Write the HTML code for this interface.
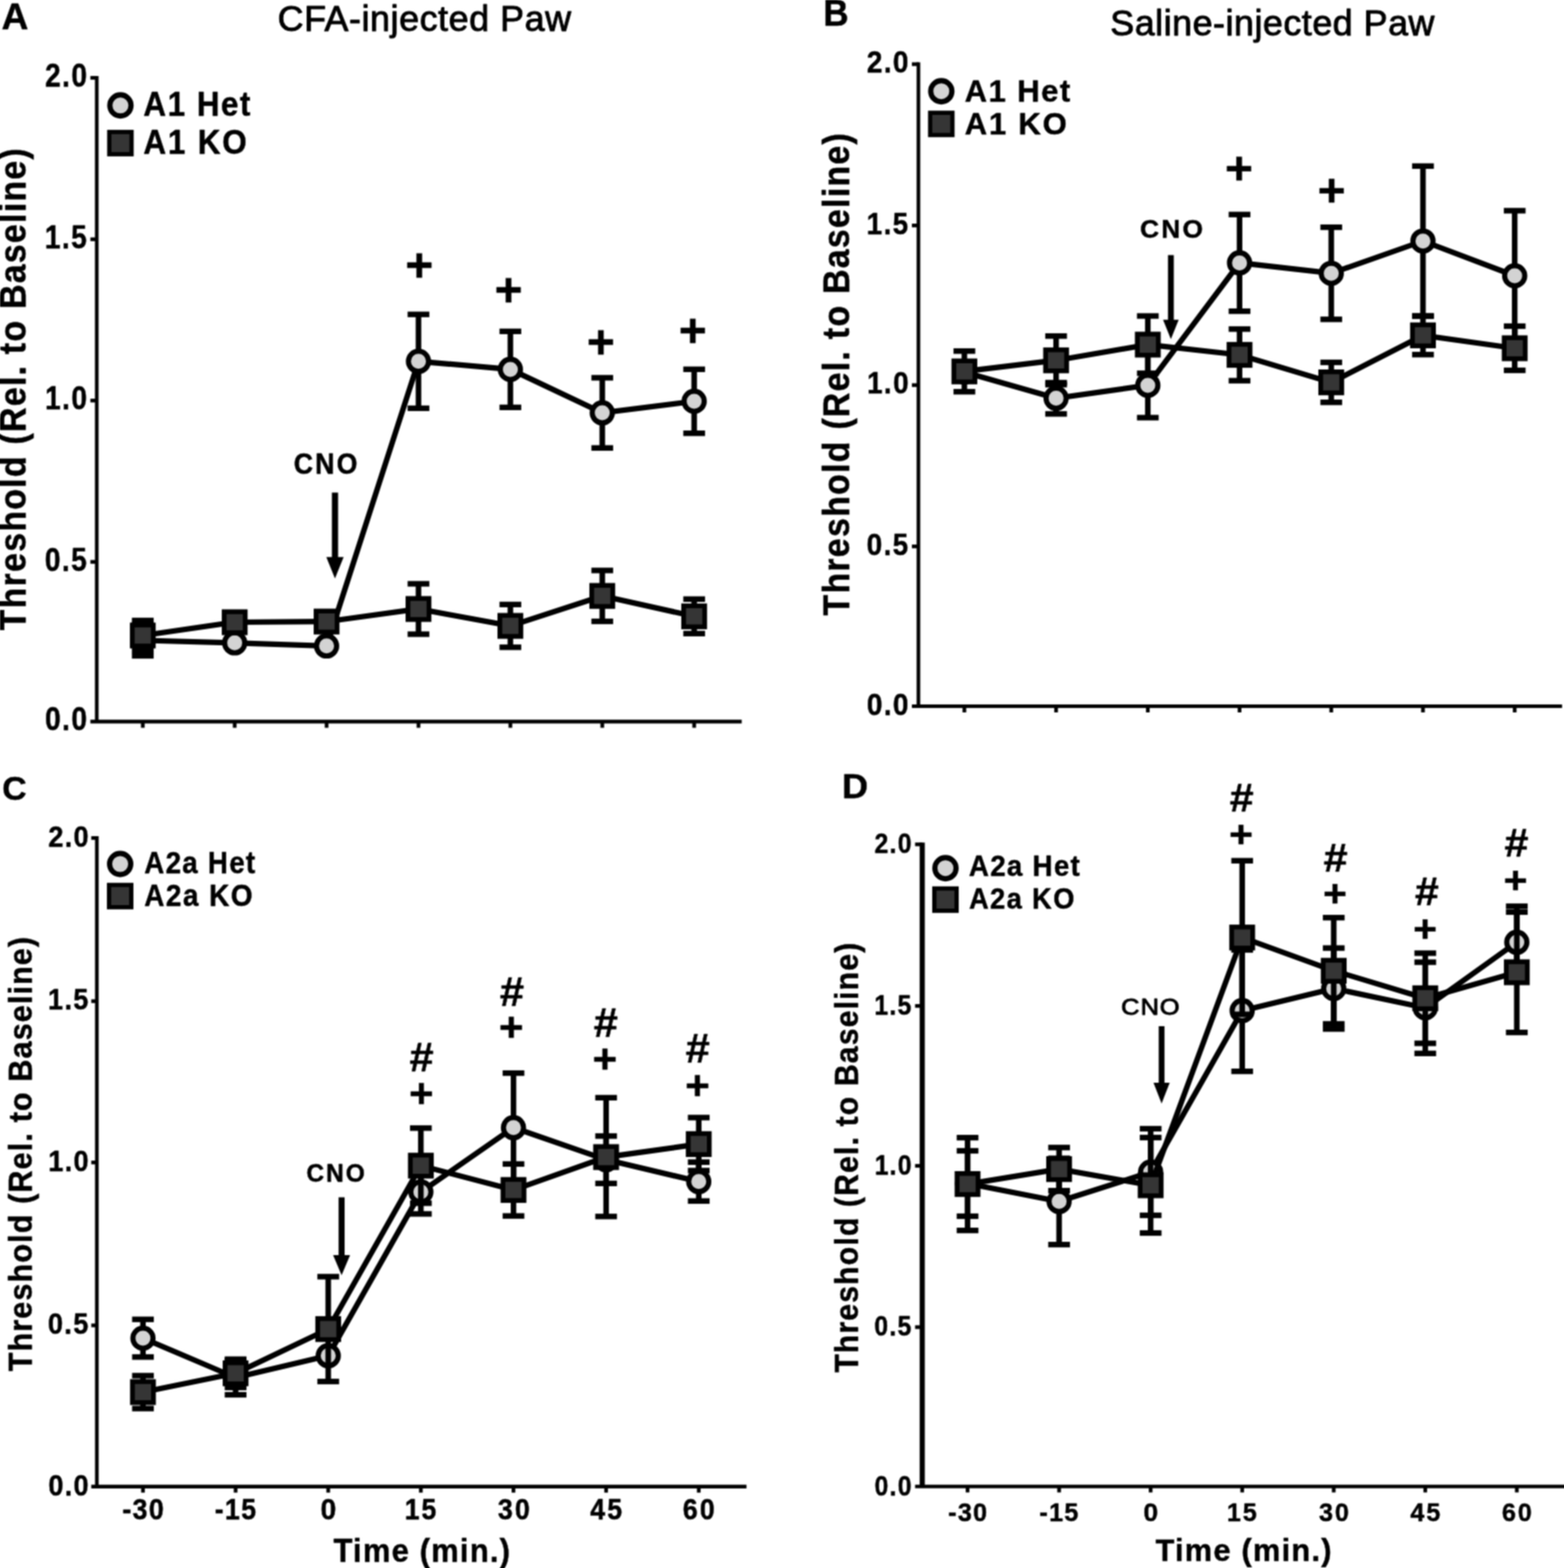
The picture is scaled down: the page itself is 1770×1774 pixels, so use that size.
<!DOCTYPE html>
<html><head><meta charset="utf-8"><title>Figure</title>
<style>html,body{margin:0;padding:0;background:#fff;} svg{display:block;} text{font-family:'Liberation Sans', Arial, Helvetica, sans-serif;font-size:100px;}</style>
</head><body>
<svg xmlns="http://www.w3.org/2000/svg" width="1770" height="1774" viewBox="0 0 1770 1774">
<defs><filter id="soft" x="0" y="0" width="1" height="1" color-interpolation-filters="sRGB"><feConvolveMatrix order="3" kernelMatrix="1 2 1 2 4 2 1 2 1" divisor="16" edgeMode="duplicate"/></filter></defs>
<rect width="1770" height="1774" fill="#fff"/>
<g filter="url(#soft)">
<rect width="1770" height="1774" fill="#fff"/>
<g stroke="#000" fill="none">
<line x1="109.5" y1="85.95" x2="109.5" y2="816.4" stroke-width="4.1" stroke-linecap="butt"/>
<line x1="102.3" y1="816.4" x2="839.4" y2="816.4" stroke-width="4.1" stroke-linecap="butt"/>
<line x1="102.3" y1="635.7" x2="109.5" y2="635.7" stroke-width="4.2" stroke-linecap="butt"/>
<line x1="102.3" y1="453.2" x2="109.5" y2="453.2" stroke-width="4.2" stroke-linecap="butt"/>
<line x1="102.3" y1="270.7" x2="109.5" y2="270.7" stroke-width="4.2" stroke-linecap="butt"/>
<line x1="102.3" y1="88.05" x2="109.5" y2="88.05" stroke-width="4.2" stroke-linecap="butt"/>
<line x1="161.6" y1="816.4" x2="161.6" y2="823.4" stroke-width="4.2" stroke-linecap="butt"/>
<line x1="265.6" y1="816.4" x2="265.6" y2="823.4" stroke-width="4.2" stroke-linecap="butt"/>
<line x1="369.6" y1="816.4" x2="369.6" y2="823.4" stroke-width="4.2" stroke-linecap="butt"/>
<line x1="473.6" y1="816.4" x2="473.6" y2="823.4" stroke-width="4.2" stroke-linecap="butt"/>
<line x1="577.6" y1="816.4" x2="577.6" y2="823.4" stroke-width="4.2" stroke-linecap="butt"/>
<line x1="681.6" y1="816.4" x2="681.6" y2="823.4" stroke-width="4.2" stroke-linecap="butt"/>
<line x1="785.6" y1="816.4" x2="785.6" y2="823.4" stroke-width="4.2" stroke-linecap="butt"/>
</g>
<g stroke="#000" fill="none">
<line x1="161.6" y1="707" x2="161.6" y2="742" stroke-width="6.3" stroke-linecap="butt"/>
<line x1="149.3" y1="707" x2="173.9" y2="707" stroke-width="6.3" stroke-linecap="butt"/>
<line x1="149.3" y1="742" x2="173.9" y2="742" stroke-width="6.3" stroke-linecap="butt"/>
<line x1="473.6" y1="355.7" x2="473.6" y2="461.9" stroke-width="6.3" stroke-linecap="butt"/>
<line x1="461.3" y1="355.7" x2="485.9" y2="355.7" stroke-width="6.3" stroke-linecap="butt"/>
<line x1="461.3" y1="461.9" x2="485.9" y2="461.9" stroke-width="6.3" stroke-linecap="butt"/>
<line x1="577.6" y1="374.9" x2="577.6" y2="460.9" stroke-width="6.3" stroke-linecap="butt"/>
<line x1="565.3" y1="374.9" x2="589.9" y2="374.9" stroke-width="6.3" stroke-linecap="butt"/>
<line x1="565.3" y1="460.9" x2="589.9" y2="460.9" stroke-width="6.3" stroke-linecap="butt"/>
<line x1="681.6" y1="427.4" x2="681.6" y2="506.8" stroke-width="6.3" stroke-linecap="butt"/>
<line x1="669.3" y1="427.4" x2="693.9" y2="427.4" stroke-width="6.3" stroke-linecap="butt"/>
<line x1="669.3" y1="506.8" x2="693.9" y2="506.8" stroke-width="6.3" stroke-linecap="butt"/>
<line x1="785.6" y1="417.8" x2="785.6" y2="490.2" stroke-width="6.3" stroke-linecap="butt"/>
<line x1="773.3" y1="417.8" x2="797.9" y2="417.8" stroke-width="6.3" stroke-linecap="butt"/>
<line x1="773.3" y1="490.2" x2="797.9" y2="490.2" stroke-width="6.3" stroke-linecap="butt"/>
<polyline points="161.6,724.5 265.6,727.3 369.6,730.8 473.6,408.8 577.6,417.9 681.6,467.1 785.6,454" stroke-width="6.2" stroke-linejoin="miter"/>
</g>
<g stroke="#000" stroke-width="5.8" fill="#d3d3d3">
<circle cx="161.6" cy="724.5" r="11.4"/>
<circle cx="265.6" cy="727.3" r="11.4"/>
<circle cx="369.6" cy="730.8" r="11.4"/>
<circle cx="473.6" cy="408.8" r="11.4"/>
<circle cx="577.6" cy="417.9" r="11.4"/>
<circle cx="681.6" cy="467.1" r="11.4"/>
<circle cx="785.6" cy="454" r="11.4"/>
</g>
<g stroke="#000" fill="none">
<line x1="161.6" y1="702" x2="161.6" y2="736" stroke-width="6.3" stroke-linecap="butt"/>
<line x1="149.3" y1="702" x2="173.9" y2="702" stroke-width="6.3" stroke-linecap="butt"/>
<line x1="149.3" y1="736" x2="173.9" y2="736" stroke-width="6.3" stroke-linecap="butt"/>
<line x1="473.6" y1="660.5" x2="473.6" y2="717.5" stroke-width="6.3" stroke-linecap="butt"/>
<line x1="461.3" y1="660.5" x2="485.9" y2="660.5" stroke-width="6.3" stroke-linecap="butt"/>
<line x1="461.3" y1="717.5" x2="485.9" y2="717.5" stroke-width="6.3" stroke-linecap="butt"/>
<line x1="577.6" y1="683.9" x2="577.6" y2="732.3" stroke-width="6.3" stroke-linecap="butt"/>
<line x1="565.3" y1="683.9" x2="589.9" y2="683.9" stroke-width="6.3" stroke-linecap="butt"/>
<line x1="565.3" y1="732.3" x2="589.9" y2="732.3" stroke-width="6.3" stroke-linecap="butt"/>
<line x1="681.6" y1="645.4" x2="681.6" y2="703" stroke-width="6.3" stroke-linecap="butt"/>
<line x1="669.3" y1="645.4" x2="693.9" y2="645.4" stroke-width="6.3" stroke-linecap="butt"/>
<line x1="669.3" y1="703" x2="693.9" y2="703" stroke-width="6.3" stroke-linecap="butt"/>
<line x1="785.6" y1="677.8" x2="785.6" y2="716.8" stroke-width="6.3" stroke-linecap="butt"/>
<line x1="773.3" y1="677.8" x2="797.9" y2="677.8" stroke-width="6.3" stroke-linecap="butt"/>
<line x1="773.3" y1="716.8" x2="797.9" y2="716.8" stroke-width="6.3" stroke-linecap="butt"/>
<polyline points="161.6,719 265.6,704 369.6,703.2 473.6,689 577.6,708.1 681.6,674.2 785.6,697.3" stroke-width="6.2" stroke-linejoin="miter"/>
</g>
<g stroke="#000" stroke-width="5.4" fill="#353535">
<rect x="149.7" y="707.1" width="23.8" height="23.8"/>
<rect x="253.7" y="692.1" width="23.8" height="23.8"/>
<rect x="357.7" y="691.3" width="23.8" height="23.8"/>
<rect x="461.7" y="677.1" width="23.8" height="23.8"/>
<rect x="565.7" y="696.2" width="23.8" height="23.8"/>
<rect x="669.7" y="662.3" width="23.8" height="23.8"/>
<rect x="773.7" y="685.4" width="23.8" height="23.8"/>
</g>
<circle cx="136.3" cy="119.3" r="12.0" stroke="#000" stroke-width="5.9" fill="#d3d3d3"/>
<rect x="123.7" y="149.3" width="25.2" height="25.2" stroke="#000" stroke-width="4.8" fill="#353535"/>
<rect x="375.6" y="557.3" width="7.0" height="74" fill="#000"/>
<polygon points="369.3,630.3 388.9,630.3 379.1,654.6" fill="#000"/>
<g fill="#000">
<text transform="translate(1.69,32.68) scale(0.4212,0.4279)" font-weight="bold" stroke="#000" stroke-width="1.178" stroke-linejoin="round">A</text>
<text transform="translate(314.27,35.15) scale(0.4052,0.4074)" font-weight="normal" stroke="#000" stroke-width="2.461" stroke-linejoin="round" letter-spacing="1.629">CFA-injected Paw</text>
<text transform="translate(162.28,130.66) scale(0.3560,0.3914)" font-weight="bold" stroke="#000" stroke-width="1.338" stroke-linejoin="round" letter-spacing="4.712">A1 Het</text>
<text transform="translate(162.28,174.17) scale(0.3570,0.3789)" font-weight="bold" stroke="#000" stroke-width="1.359" stroke-linejoin="round" letter-spacing="5.608">A1 KO</text>
<text transform="translate(332.54,535.91) scale(0.3016,0.3352)" font-weight="bold" stroke="#000" stroke-width="1.570" stroke-linejoin="round" letter-spacing="8.054">CNO</text>
<text transform="translate(29.18,713.16) rotate(-90) scale(0.3839,0.4188)" font-weight="bold" stroke="#000" stroke-width="1.246" stroke-linejoin="round" letter-spacing="3.669">Threshold (Rel. to Baseline)</text>
<text transform="translate(51.05,826.44) scale(0.3182,0.3680)" font-weight="bold" stroke="#000" stroke-width="1.457" stroke-linejoin="round" letter-spacing="4.930">0.0</text>
<text transform="translate(50.7,645.74) scale(0.3183,0.3680)" font-weight="bold" stroke="#000" stroke-width="1.457" stroke-linejoin="round" letter-spacing="4.968">0.5</text>
<text transform="translate(51.11,463.24) scale(0.3182,0.3680)" font-weight="bold" stroke="#000" stroke-width="1.457" stroke-linejoin="round" letter-spacing="4.855">1.0</text>
<text transform="translate(50.76,280.56) scale(0.3182,0.3679)" font-weight="bold" stroke="#000" stroke-width="1.458" stroke-linejoin="round" letter-spacing="4.892">1.5</text>
<text transform="translate(51.02,98.09) scale(0.3183,0.3680)" font-weight="bold" stroke="#000" stroke-width="1.457" stroke-linejoin="round" letter-spacing="4.968">2.0</text>
<text transform="translate(458.74,317.66) scale(0.5400,0.5272)" font-weight="bold" stroke="#000" stroke-width="0.937" stroke-linejoin="round">+</text>
<text transform="translate(559.64,345.66) scale(0.5400,0.5272)" font-weight="bold" stroke="#000" stroke-width="0.937" stroke-linejoin="round">+</text>
<text transform="translate(664.34,404.66) scale(0.5400,0.5272)" font-weight="bold" stroke="#000" stroke-width="0.937" stroke-linejoin="round">+</text>
<text transform="translate(768.34,392.36) scale(0.5400,0.5272)" font-weight="bold" stroke="#000" stroke-width="0.937" stroke-linejoin="round">+</text>
</g>
<g stroke="#000" fill="none">
<line x1="1039.4" y1="70.5" x2="1039.4" y2="799" stroke-width="4.1" stroke-linecap="butt"/>
<line x1="1032" y1="799" x2="1767.8" y2="799" stroke-width="4.1" stroke-linecap="butt"/>
<line x1="1032" y1="618.2" x2="1039.4" y2="618.2" stroke-width="4.2" stroke-linecap="butt"/>
<line x1="1032" y1="435.7" x2="1039.4" y2="435.7" stroke-width="4.2" stroke-linecap="butt"/>
<line x1="1032" y1="255.1" x2="1039.4" y2="255.1" stroke-width="4.2" stroke-linecap="butt"/>
<line x1="1032" y1="72.6" x2="1039.4" y2="72.6" stroke-width="4.2" stroke-linecap="butt"/>
<line x1="1091.4" y1="799" x2="1091.4" y2="806" stroke-width="4.2" stroke-linecap="butt"/>
<line x1="1195.2" y1="799" x2="1195.2" y2="806" stroke-width="4.2" stroke-linecap="butt"/>
<line x1="1299" y1="799" x2="1299" y2="806" stroke-width="4.2" stroke-linecap="butt"/>
<line x1="1402.8" y1="799" x2="1402.8" y2="806" stroke-width="4.2" stroke-linecap="butt"/>
<line x1="1506.6" y1="799" x2="1506.6" y2="806" stroke-width="4.2" stroke-linecap="butt"/>
<line x1="1610.4" y1="799" x2="1610.4" y2="806" stroke-width="4.2" stroke-linecap="butt"/>
<line x1="1714.2" y1="799" x2="1714.2" y2="806" stroke-width="4.2" stroke-linecap="butt"/>
</g>
<g stroke="#000" fill="none">
<line x1="1195.2" y1="432.9" x2="1195.2" y2="468.3" stroke-width="6.3" stroke-linecap="butt"/>
<line x1="1182.9" y1="432.9" x2="1207.5" y2="432.9" stroke-width="6.3" stroke-linecap="butt"/>
<line x1="1182.9" y1="468.3" x2="1207.5" y2="468.3" stroke-width="6.3" stroke-linecap="butt"/>
<line x1="1299" y1="399.3" x2="1299" y2="472.5" stroke-width="6.3" stroke-linecap="butt"/>
<line x1="1286.7" y1="399.3" x2="1311.3" y2="399.3" stroke-width="6.3" stroke-linecap="butt"/>
<line x1="1286.7" y1="472.5" x2="1311.3" y2="472.5" stroke-width="6.3" stroke-linecap="butt"/>
<line x1="1402.8" y1="242.7" x2="1402.8" y2="352.1" stroke-width="6.3" stroke-linecap="butt"/>
<line x1="1390.5" y1="242.7" x2="1415.1" y2="242.7" stroke-width="6.3" stroke-linecap="butt"/>
<line x1="1390.5" y1="352.1" x2="1415.1" y2="352.1" stroke-width="6.3" stroke-linecap="butt"/>
<line x1="1506.6" y1="257.1" x2="1506.6" y2="361.3" stroke-width="6.3" stroke-linecap="butt"/>
<line x1="1494.3" y1="257.1" x2="1518.9" y2="257.1" stroke-width="6.3" stroke-linecap="butt"/>
<line x1="1494.3" y1="361.3" x2="1518.9" y2="361.3" stroke-width="6.3" stroke-linecap="butt"/>
<line x1="1610.4" y1="187.9" x2="1610.4" y2="357.5" stroke-width="6.3" stroke-linecap="butt"/>
<line x1="1598.1" y1="187.9" x2="1622.7" y2="187.9" stroke-width="6.3" stroke-linecap="butt"/>
<line x1="1598.1" y1="357.5" x2="1622.7" y2="357.5" stroke-width="6.3" stroke-linecap="butt"/>
<line x1="1714.2" y1="238.4" x2="1714.2" y2="385.6" stroke-width="6.3" stroke-linecap="butt"/>
<line x1="1701.9" y1="238.4" x2="1726.5" y2="238.4" stroke-width="6.3" stroke-linecap="butt"/>
<line x1="1701.9" y1="385.6" x2="1726.5" y2="385.6" stroke-width="6.3" stroke-linecap="butt"/>
<polyline points="1091.4,421 1195.2,450.6 1299,435.9 1402.8,297.4 1506.6,309.2 1610.4,272.7 1714.2,312" stroke-width="6.2" stroke-linejoin="miter"/>
</g>
<g stroke="#000" stroke-width="5.8" fill="#d3d3d3">
<circle cx="1091.4" cy="421" r="11.4"/>
<circle cx="1195.2" cy="450.6" r="11.4"/>
<circle cx="1299" cy="435.9" r="11.4"/>
<circle cx="1402.8" cy="297.4" r="11.4"/>
<circle cx="1506.6" cy="309.2" r="11.4"/>
<circle cx="1610.4" cy="272.7" r="11.4"/>
<circle cx="1714.2" cy="312" r="11.4"/>
</g>
<g stroke="#000" fill="none">
<line x1="1091.4" y1="397.2" x2="1091.4" y2="443.2" stroke-width="6.3" stroke-linecap="butt"/>
<line x1="1079.1" y1="397.2" x2="1103.7" y2="397.2" stroke-width="6.3" stroke-linecap="butt"/>
<line x1="1079.1" y1="443.2" x2="1103.7" y2="443.2" stroke-width="6.3" stroke-linecap="butt"/>
<line x1="1195.2" y1="380.2" x2="1195.2" y2="435.2" stroke-width="6.3" stroke-linecap="butt"/>
<line x1="1182.9" y1="380.2" x2="1207.5" y2="380.2" stroke-width="6.3" stroke-linecap="butt"/>
<line x1="1182.9" y1="435.2" x2="1207.5" y2="435.2" stroke-width="6.3" stroke-linecap="butt"/>
<line x1="1299" y1="357.5" x2="1299" y2="422.3" stroke-width="6.3" stroke-linecap="butt"/>
<line x1="1286.7" y1="357.5" x2="1311.3" y2="357.5" stroke-width="6.3" stroke-linecap="butt"/>
<line x1="1286.7" y1="422.3" x2="1311.3" y2="422.3" stroke-width="6.3" stroke-linecap="butt"/>
<line x1="1402.8" y1="372.3" x2="1402.8" y2="430.7" stroke-width="6.3" stroke-linecap="butt"/>
<line x1="1390.5" y1="372.3" x2="1415.1" y2="372.3" stroke-width="6.3" stroke-linecap="butt"/>
<line x1="1390.5" y1="430.7" x2="1415.1" y2="430.7" stroke-width="6.3" stroke-linecap="butt"/>
<line x1="1506.6" y1="410" x2="1506.6" y2="455.2" stroke-width="6.3" stroke-linecap="butt"/>
<line x1="1494.3" y1="410" x2="1518.9" y2="410" stroke-width="6.3" stroke-linecap="butt"/>
<line x1="1494.3" y1="455.2" x2="1518.9" y2="455.2" stroke-width="6.3" stroke-linecap="butt"/>
<line x1="1610.4" y1="357.6" x2="1610.4" y2="401.2" stroke-width="6.3" stroke-linecap="butt"/>
<line x1="1598.1" y1="357.6" x2="1622.7" y2="357.6" stroke-width="6.3" stroke-linecap="butt"/>
<line x1="1598.1" y1="401.2" x2="1622.7" y2="401.2" stroke-width="6.3" stroke-linecap="butt"/>
<line x1="1714.2" y1="369" x2="1714.2" y2="419" stroke-width="6.3" stroke-linecap="butt"/>
<line x1="1701.9" y1="369" x2="1726.5" y2="369" stroke-width="6.3" stroke-linecap="butt"/>
<line x1="1701.9" y1="419" x2="1726.5" y2="419" stroke-width="6.3" stroke-linecap="butt"/>
<polyline points="1091.4,420.2 1195.2,407.7 1299,389.9 1402.8,401.5 1506.6,432.6 1610.4,379.4 1714.2,394" stroke-width="6.2" stroke-linejoin="miter"/>
</g>
<g stroke="#000" stroke-width="5.4" fill="#353535">
<rect x="1079.5" y="408.3" width="23.8" height="23.8"/>
<rect x="1183.3" y="395.8" width="23.8" height="23.8"/>
<rect x="1287.1" y="378" width="23.8" height="23.8"/>
<rect x="1390.9" y="389.6" width="23.8" height="23.8"/>
<rect x="1494.7" y="420.7" width="23.8" height="23.8"/>
<rect x="1598.5" y="367.5" width="23.8" height="23.8"/>
<rect x="1702.3" y="382.1" width="23.8" height="23.8"/>
</g>
<circle cx="1065.3" cy="103.2" r="12.0" stroke="#000" stroke-width="5.9" fill="#d3d3d3"/>
<rect x="1052.7" y="127.6" width="25.2" height="25.2" stroke="#000" stroke-width="4.8" fill="#353535"/>
<rect x="1321.8" y="288.6" width="6.6" height="74.1" fill="#000"/>
<polygon points="1316.25,361.7 1333.95,361.7 1325.1,383.7" fill="#000"/>
<g fill="#000">
<text transform="translate(931.78,28.85) scale(0.3951,0.4275)" font-weight="bold" stroke="#000" stroke-width="1.216" stroke-linejoin="round">B</text>
<text transform="translate(1256.57,39.63) scale(0.4053,0.4034)" font-weight="normal" stroke="#000" stroke-width="2.473" stroke-linejoin="round" letter-spacing="1.500">Saline-injected Paw</text>
<text transform="translate(1091.8,115.19) scale(0.3509,0.3586)" font-weight="bold" stroke="#000" stroke-width="1.409" stroke-linejoin="round" letter-spacing="4.712">A1 Het</text>
<text transform="translate(1091.79,152) scale(0.3523,0.3535)" font-weight="bold" stroke="#000" stroke-width="1.417" stroke-linejoin="round" letter-spacing="5.608">A1 KO</text>
<text transform="translate(1290.36,269.15) scale(0.2977,0.3014)" font-weight="bold" stroke="#000" stroke-width="1.669" stroke-linejoin="round" letter-spacing="8.054">CNO</text>
<text transform="translate(960.68,696.46) rotate(-90) scale(0.3841,0.4188)" font-weight="bold" stroke="#000" stroke-width="1.245" stroke-linejoin="round" letter-spacing="3.669">Threshold (Rel. to Baseline)</text>
<text transform="translate(981.12,808.68) scale(0.3164,0.3590)" font-weight="bold" stroke="#000" stroke-width="1.481" stroke-linejoin="round" letter-spacing="4.930">0.0</text>
<text transform="translate(980.78,627.88) scale(0.3164,0.3590)" font-weight="bold" stroke="#000" stroke-width="1.481" stroke-linejoin="round" letter-spacing="4.968">0.5</text>
<text transform="translate(981.18,445.38) scale(0.3163,0.3590)" font-weight="bold" stroke="#000" stroke-width="1.481" stroke-linejoin="round" letter-spacing="4.855">1.0</text>
<text transform="translate(980.83,264.6) scale(0.3163,0.3589)" font-weight="bold" stroke="#000" stroke-width="1.481" stroke-linejoin="round" letter-spacing="4.892">1.5</text>
<text transform="translate(981.09,82.28) scale(0.3164,0.3590)" font-weight="bold" stroke="#000" stroke-width="1.481" stroke-linejoin="round" letter-spacing="4.968">2.0</text>
<text transform="translate(1386.54,208.03) scale(0.5400,0.5202)" font-weight="bold" stroke="#000" stroke-width="0.943" stroke-linejoin="round">+</text>
<text transform="translate(1491.14,232.53) scale(0.5400,0.5202)" font-weight="bold" stroke="#000" stroke-width="0.943" stroke-linejoin="round">+</text>
</g>
<g stroke="#000" fill="none">
<line x1="109.6" y1="946" x2="109.6" y2="1681.9" stroke-width="4.1" stroke-linecap="butt"/>
<line x1="103.3" y1="1681.9" x2="844.8" y2="1681.9" stroke-width="4.1" stroke-linecap="butt"/>
<line x1="103.3" y1="1499.5" x2="109.6" y2="1499.5" stroke-width="4.2" stroke-linecap="butt"/>
<line x1="103.3" y1="1315.2" x2="109.6" y2="1315.2" stroke-width="4.2" stroke-linecap="butt"/>
<line x1="103.3" y1="1132.7" x2="109.6" y2="1132.7" stroke-width="4.2" stroke-linecap="butt"/>
<line x1="103.3" y1="948.1" x2="109.6" y2="948.1" stroke-width="4.2" stroke-linecap="butt"/>
<line x1="161.8" y1="1681.9" x2="161.8" y2="1688.7" stroke-width="4.2" stroke-linecap="butt"/>
<line x1="266.63" y1="1681.9" x2="266.63" y2="1688.7" stroke-width="4.2" stroke-linecap="butt"/>
<line x1="371.46" y1="1681.9" x2="371.46" y2="1688.7" stroke-width="4.2" stroke-linecap="butt"/>
<line x1="476.29" y1="1681.9" x2="476.29" y2="1688.7" stroke-width="4.2" stroke-linecap="butt"/>
<line x1="581.12" y1="1681.9" x2="581.12" y2="1688.7" stroke-width="4.2" stroke-linecap="butt"/>
<line x1="685.95" y1="1681.9" x2="685.95" y2="1688.7" stroke-width="4.2" stroke-linecap="butt"/>
<line x1="790.78" y1="1681.9" x2="790.78" y2="1688.7" stroke-width="4.2" stroke-linecap="butt"/>
</g>
<g stroke="#000" fill="none">
<line x1="161.8" y1="1492.7" x2="161.8" y2="1535.3" stroke-width="6.3" stroke-linecap="butt"/>
<line x1="149.5" y1="1492.7" x2="174.1" y2="1492.7" stroke-width="6.3" stroke-linecap="butt"/>
<line x1="149.5" y1="1535.3" x2="174.1" y2="1535.3" stroke-width="6.3" stroke-linecap="butt"/>
<line x1="266.63" y1="1539.2" x2="266.63" y2="1578" stroke-width="6.3" stroke-linecap="butt"/>
<line x1="254.33" y1="1539.2" x2="278.93" y2="1539.2" stroke-width="6.3" stroke-linecap="butt"/>
<line x1="254.33" y1="1578" x2="278.93" y2="1578" stroke-width="6.3" stroke-linecap="butt"/>
<line x1="476.29" y1="1323.8" x2="476.29" y2="1373.4" stroke-width="6.3" stroke-linecap="butt"/>
<line x1="463.99" y1="1323.8" x2="488.59" y2="1323.8" stroke-width="6.3" stroke-linecap="butt"/>
<line x1="463.99" y1="1373.4" x2="488.59" y2="1373.4" stroke-width="6.3" stroke-linecap="butt"/>
<line x1="581.12" y1="1214.1" x2="581.12" y2="1337.5" stroke-width="6.3" stroke-linecap="butt"/>
<line x1="568.82" y1="1214.1" x2="593.42" y2="1214.1" stroke-width="6.3" stroke-linecap="butt"/>
<line x1="568.82" y1="1337.5" x2="593.42" y2="1337.5" stroke-width="6.3" stroke-linecap="butt"/>
<line x1="685.95" y1="1285.3" x2="685.95" y2="1338.9" stroke-width="6.3" stroke-linecap="butt"/>
<line x1="673.65" y1="1285.3" x2="698.25" y2="1285.3" stroke-width="6.3" stroke-linecap="butt"/>
<line x1="673.65" y1="1338.9" x2="698.25" y2="1338.9" stroke-width="6.3" stroke-linecap="butt"/>
<line x1="790.78" y1="1314.8" x2="790.78" y2="1358.8" stroke-width="6.3" stroke-linecap="butt"/>
<line x1="778.48" y1="1314.8" x2="803.08" y2="1314.8" stroke-width="6.3" stroke-linecap="butt"/>
<line x1="778.48" y1="1358.8" x2="803.08" y2="1358.8" stroke-width="6.3" stroke-linecap="butt"/>
<polyline points="161.8,1514 266.63,1558.6 371.46,1533.8 476.29,1348.6 581.12,1275.8 685.95,1312.1 790.78,1336.8" stroke-width="6.2" stroke-linejoin="miter"/>
</g>
<g stroke="#000" stroke-width="5.8" fill="#d3d3d3">
<circle cx="161.8" cy="1514" r="11.4"/>
<circle cx="266.63" cy="1558.6" r="11.4"/>
<circle cx="371.46" cy="1533.8" r="11.4"/>
<circle cx="476.29" cy="1348.6" r="11.4"/>
<circle cx="581.12" cy="1275.8" r="11.4"/>
<circle cx="685.95" cy="1312.1" r="11.4"/>
<circle cx="790.78" cy="1336.8" r="11.4"/>
</g>
<g stroke="#000" fill="none">
<line x1="161.8" y1="1556.4" x2="161.8" y2="1593.6" stroke-width="6.3" stroke-linecap="butt"/>
<line x1="149.5" y1="1556.4" x2="174.1" y2="1556.4" stroke-width="6.3" stroke-linecap="butt"/>
<line x1="149.5" y1="1593.6" x2="174.1" y2="1593.6" stroke-width="6.3" stroke-linecap="butt"/>
<line x1="266.63" y1="1537.75" x2="266.63" y2="1569.75" stroke-width="6.3" stroke-linecap="butt"/>
<line x1="254.33" y1="1537.75" x2="278.93" y2="1537.75" stroke-width="6.3" stroke-linecap="butt"/>
<line x1="254.33" y1="1569.75" x2="278.93" y2="1569.75" stroke-width="6.3" stroke-linecap="butt"/>
<line x1="371.46" y1="1444.4" x2="371.46" y2="1563" stroke-width="6.3" stroke-linecap="butt"/>
<line x1="359.16" y1="1444.4" x2="383.76" y2="1444.4" stroke-width="6.3" stroke-linecap="butt"/>
<line x1="359.16" y1="1563" x2="383.76" y2="1563" stroke-width="6.3" stroke-linecap="butt"/>
<line x1="476.29" y1="1276.3" x2="476.29" y2="1361.3" stroke-width="6.3" stroke-linecap="butt"/>
<line x1="463.99" y1="1276.3" x2="488.59" y2="1276.3" stroke-width="6.3" stroke-linecap="butt"/>
<line x1="463.99" y1="1361.3" x2="488.59" y2="1361.3" stroke-width="6.3" stroke-linecap="butt"/>
<line x1="581.12" y1="1316.9" x2="581.12" y2="1375.7" stroke-width="6.3" stroke-linecap="butt"/>
<line x1="568.82" y1="1316.9" x2="593.42" y2="1316.9" stroke-width="6.3" stroke-linecap="butt"/>
<line x1="568.82" y1="1375.7" x2="593.42" y2="1375.7" stroke-width="6.3" stroke-linecap="butt"/>
<line x1="685.95" y1="1241.9" x2="685.95" y2="1376.3" stroke-width="6.3" stroke-linecap="butt"/>
<line x1="673.65" y1="1241.9" x2="698.25" y2="1241.9" stroke-width="6.3" stroke-linecap="butt"/>
<line x1="673.65" y1="1376.3" x2="698.25" y2="1376.3" stroke-width="6.3" stroke-linecap="butt"/>
<line x1="790.78" y1="1264.4" x2="790.78" y2="1324.4" stroke-width="6.3" stroke-linecap="butt"/>
<line x1="778.48" y1="1264.4" x2="803.08" y2="1264.4" stroke-width="6.3" stroke-linecap="butt"/>
<line x1="778.48" y1="1324.4" x2="803.08" y2="1324.4" stroke-width="6.3" stroke-linecap="butt"/>
<polyline points="161.8,1575 266.63,1553.75 371.46,1503.7 476.29,1318.8 581.12,1346.3 685.95,1309.1 790.78,1294.4" stroke-width="6.2" stroke-linejoin="miter"/>
</g>
<g stroke="#000" stroke-width="5.4" fill="#353535">
<rect x="149.9" y="1563.1" width="23.8" height="23.8"/>
<rect x="254.73" y="1541.85" width="23.8" height="23.8"/>
<rect x="359.56" y="1491.8" width="23.8" height="23.8"/>
<rect x="464.39" y="1306.9" width="23.8" height="23.8"/>
<rect x="569.22" y="1334.4" width="23.8" height="23.8"/>
<rect x="674.05" y="1297.2" width="23.8" height="23.8"/>
<rect x="778.88" y="1282.5" width="23.8" height="23.8"/>
</g>
<circle cx="136" cy="977.5" r="12.0" stroke="#000" stroke-width="5.9" fill="#d3d3d3"/>
<rect x="123.4" y="1001.2" width="25.2" height="25.2" stroke="#000" stroke-width="4.8" fill="#353535"/>
<rect x="383.2" y="1354.6" width="6.8" height="66.5" fill="#000"/>
<polygon points="377,1420.1 396.2,1420.1 386.6,1442.7" fill="#000"/>
<g fill="#000">
<text transform="translate(2.52,905.18) scale(0.3831,0.3704)" font-weight="bold" stroke="#000" stroke-width="1.327" stroke-linejoin="round">C</text>
<text transform="translate(163.31,987.8) scale(0.3136,0.3507)" font-weight="bold" stroke="#000" stroke-width="1.505" stroke-linejoin="round" letter-spacing="4.616">A2a Het</text>
<text transform="translate(163.3,1024.7) scale(0.3160,0.3507)" font-weight="bold" stroke="#000" stroke-width="1.500" stroke-linejoin="round" letter-spacing="5.329">A2a KO</text>
<text transform="translate(346.64,1337.06) scale(0.2777,0.2944)" font-weight="bold" stroke="#000" stroke-width="1.748" stroke-linejoin="round" letter-spacing="8.054">CNO</text>
<text transform="translate(36.28,1551.42) rotate(-90) scale(0.3459,0.3696)" font-weight="bold" stroke="#000" stroke-width="1.398" stroke-linejoin="round" letter-spacing="3.669">Threshold (Rel. to Baseline)</text>
<text transform="translate(377.5,1767.35) scale(0.3497,0.3617)" font-weight="bold" stroke="#000" stroke-width="1.406" stroke-linejoin="round" letter-spacing="3.959">Time (min.)</text>
<text transform="translate(54.65,1691.86) scale(0.3061,0.3350)" font-weight="bold" stroke="#000" stroke-width="1.560" stroke-linejoin="round" letter-spacing="4.930">0.0</text>
<text transform="translate(54.32,1509.46) scale(0.3062,0.3350)" font-weight="bold" stroke="#000" stroke-width="1.560" stroke-linejoin="round" letter-spacing="4.968">0.5</text>
<text transform="translate(54.71,1325.16) scale(0.3061,0.3350)" font-weight="bold" stroke="#000" stroke-width="1.560" stroke-linejoin="round" letter-spacing="4.855">1.0</text>
<text transform="translate(54.37,1142.49) scale(0.3061,0.3349)" font-weight="bold" stroke="#000" stroke-width="1.560" stroke-linejoin="round" letter-spacing="4.892">1.5</text>
<text transform="translate(54.63,958.06) scale(0.3062,0.3350)" font-weight="bold" stroke="#000" stroke-width="1.560" stroke-linejoin="round" letter-spacing="4.968">2.0</text>
<text transform="translate(138.4,1719.35) scale(0.3035,0.3300)" font-weight="bold" stroke="#000" stroke-width="1.579" stroke-linejoin="round" letter-spacing="5.118">-30</text>
<text transform="translate(242.9,1719.01) scale(0.3035,0.3299)" font-weight="bold" stroke="#000" stroke-width="1.579" stroke-linejoin="round" letter-spacing="5.194">-15</text>
<text transform="translate(362.68,1719.35) scale(0.3194,0.3300)" font-weight="bold" stroke="#000" stroke-width="1.540" stroke-linejoin="round">0</text>
<text transform="translate(457.9,1719.01) scale(0.3023,0.3299)" font-weight="bold" stroke="#000" stroke-width="1.582" stroke-linejoin="round" letter-spacing="7.677">15</text>
<text transform="translate(563.44,1719.35) scale(0.3025,0.3300)" font-weight="bold" stroke="#000" stroke-width="1.581" stroke-linejoin="round" letter-spacing="7.903">30</text>
<text transform="translate(668.1,1719.01) scale(0.3025,0.3299)" font-weight="bold" stroke="#000" stroke-width="1.581" stroke-linejoin="round" letter-spacing="7.978">45</text>
<text transform="translate(772.83,1719.35) scale(0.3024,0.3300)" font-weight="bold" stroke="#000" stroke-width="1.581" stroke-linejoin="round" letter-spacing="7.753">60</text>
<text transform="translate(463.05,1252.52) scale(0.4740,0.4632)" font-weight="bold" stroke="#000" stroke-width="1.067" stroke-linejoin="round">+</text>
<text transform="translate(463.57,1212.42) scale(0.4904,0.4585)" font-weight="bold" stroke="#000" stroke-width="1.054" stroke-linejoin="round">#</text>
<text transform="translate(564.85,1177.62) scale(0.4740,0.4632)" font-weight="bold" stroke="#000" stroke-width="1.067" stroke-linejoin="round">+</text>
<text transform="translate(565.77,1137.92) scale(0.4904,0.4585)" font-weight="bold" stroke="#000" stroke-width="1.054" stroke-linejoin="round">#</text>
<text transform="translate(670.75,1214.32) scale(0.4740,0.4632)" font-weight="bold" stroke="#000" stroke-width="1.067" stroke-linejoin="round">+</text>
<text transform="translate(672.07,1172.82) scale(0.4904,0.4585)" font-weight="bold" stroke="#000" stroke-width="1.054" stroke-linejoin="round">#</text>
<text transform="translate(775.45,1243.92) scale(0.4740,0.4632)" font-weight="bold" stroke="#000" stroke-width="1.067" stroke-linejoin="round">+</text>
<text transform="translate(775.97,1202.32) scale(0.4904,0.4585)" font-weight="bold" stroke="#000" stroke-width="1.054" stroke-linejoin="round">#</text>
</g>
<g stroke="#000" fill="none">
<line x1="1043.7" y1="953.2" x2="1043.7" y2="1681.7" stroke-width="5.8" stroke-linecap="butt"/>
<line x1="1035.6" y1="1681.7" x2="1770" y2="1681.7" stroke-width="4.0" stroke-linecap="butt"/>
<line x1="1035.6" y1="1501.5" x2="1043.7" y2="1501.5" stroke-width="4.2" stroke-linecap="butt"/>
<line x1="1035.6" y1="1319" x2="1043.7" y2="1319" stroke-width="4.2" stroke-linecap="butt"/>
<line x1="1035.6" y1="1138.1" x2="1043.7" y2="1138.1" stroke-width="4.2" stroke-linecap="butt"/>
<line x1="1035.6" y1="955.3" x2="1043.7" y2="955.3" stroke-width="4.2" stroke-linecap="butt"/>
<line x1="1095" y1="1681.7" x2="1095" y2="1688.5" stroke-width="4.2" stroke-linecap="butt"/>
<line x1="1198.6" y1="1681.7" x2="1198.6" y2="1688.5" stroke-width="4.2" stroke-linecap="butt"/>
<line x1="1302.2" y1="1681.7" x2="1302.2" y2="1688.5" stroke-width="4.2" stroke-linecap="butt"/>
<line x1="1405.8" y1="1681.7" x2="1405.8" y2="1688.5" stroke-width="4.2" stroke-linecap="butt"/>
<line x1="1509.4" y1="1681.7" x2="1509.4" y2="1688.5" stroke-width="4.2" stroke-linecap="butt"/>
<line x1="1613" y1="1681.7" x2="1613" y2="1688.5" stroke-width="4.2" stroke-linecap="butt"/>
<line x1="1716.6" y1="1681.7" x2="1716.6" y2="1688.5" stroke-width="4.2" stroke-linecap="butt"/>
</g>
<g stroke="#000" fill="none">
<line x1="1095" y1="1302" x2="1095" y2="1376" stroke-width="6.3" stroke-linecap="butt"/>
<line x1="1082.7" y1="1302" x2="1107.3" y2="1302" stroke-width="6.3" stroke-linecap="butt"/>
<line x1="1082.7" y1="1376" x2="1107.3" y2="1376" stroke-width="6.3" stroke-linecap="butt"/>
<line x1="1198.6" y1="1310.5" x2="1198.6" y2="1408.1" stroke-width="6.3" stroke-linecap="butt"/>
<line x1="1186.3" y1="1310.5" x2="1210.9" y2="1310.5" stroke-width="6.3" stroke-linecap="butt"/>
<line x1="1186.3" y1="1408.1" x2="1210.9" y2="1408.1" stroke-width="6.3" stroke-linecap="butt"/>
<line x1="1302.2" y1="1277" x2="1302.2" y2="1375" stroke-width="6.3" stroke-linecap="butt"/>
<line x1="1289.9" y1="1277" x2="1314.5" y2="1277" stroke-width="6.3" stroke-linecap="butt"/>
<line x1="1289.9" y1="1375" x2="1314.5" y2="1375" stroke-width="6.3" stroke-linecap="butt"/>
<line x1="1405.8" y1="1074.7" x2="1405.8" y2="1212.1" stroke-width="6.3" stroke-linecap="butt"/>
<line x1="1393.5" y1="1074.7" x2="1418.1" y2="1074.7" stroke-width="6.3" stroke-linecap="butt"/>
<line x1="1393.5" y1="1212.1" x2="1418.1" y2="1212.1" stroke-width="6.3" stroke-linecap="butt"/>
<line x1="1509.4" y1="1072.6" x2="1509.4" y2="1164.2" stroke-width="6.3" stroke-linecap="butt"/>
<line x1="1497.1" y1="1072.6" x2="1521.7" y2="1072.6" stroke-width="6.3" stroke-linecap="butt"/>
<line x1="1497.1" y1="1164.2" x2="1521.7" y2="1164.2" stroke-width="6.3" stroke-linecap="butt"/>
<line x1="1613" y1="1088.6" x2="1613" y2="1191.8" stroke-width="6.3" stroke-linecap="butt"/>
<line x1="1600.7" y1="1088.6" x2="1625.3" y2="1088.6" stroke-width="6.3" stroke-linecap="butt"/>
<line x1="1600.7" y1="1191.8" x2="1625.3" y2="1191.8" stroke-width="6.3" stroke-linecap="butt"/>
<line x1="1716.6" y1="1025.3" x2="1716.6" y2="1106.9" stroke-width="6.3" stroke-linecap="butt"/>
<line x1="1704.3" y1="1025.3" x2="1728.9" y2="1025.3" stroke-width="6.3" stroke-linecap="butt"/>
<line x1="1704.3" y1="1106.9" x2="1728.9" y2="1106.9" stroke-width="6.3" stroke-linecap="butt"/>
<polyline points="1095,1339 1198.6,1359.3 1302.2,1326 1405.8,1143.4 1509.4,1118.4 1613,1140.2 1716.6,1066.1" stroke-width="6.2" stroke-linejoin="miter"/>
</g>
<g stroke="#000" stroke-width="5.8" fill="#d3d3d3">
<circle cx="1095" cy="1339" r="11.4"/>
<circle cx="1198.6" cy="1359.3" r="11.4"/>
<circle cx="1302.2" cy="1326" r="11.4"/>
<circle cx="1405.8" cy="1143.4" r="11.4"/>
<circle cx="1509.4" cy="1118.4" r="11.4"/>
<circle cx="1613" cy="1140.2" r="11.4"/>
<circle cx="1716.6" cy="1066.1" r="11.4"/>
</g>
<g stroke="#000" fill="none">
<line x1="1095" y1="1287.1" x2="1095" y2="1392.1" stroke-width="6.3" stroke-linecap="butt"/>
<line x1="1082.7" y1="1287.1" x2="1107.3" y2="1287.1" stroke-width="6.3" stroke-linecap="butt"/>
<line x1="1082.7" y1="1392.1" x2="1107.3" y2="1392.1" stroke-width="6.3" stroke-linecap="butt"/>
<line x1="1198.6" y1="1298.3" x2="1198.6" y2="1347.1" stroke-width="6.3" stroke-linecap="butt"/>
<line x1="1186.3" y1="1298.3" x2="1210.9" y2="1298.3" stroke-width="6.3" stroke-linecap="butt"/>
<line x1="1186.3" y1="1347.1" x2="1210.9" y2="1347.1" stroke-width="6.3" stroke-linecap="butt"/>
<line x1="1302.2" y1="1287" x2="1302.2" y2="1395" stroke-width="6.3" stroke-linecap="butt"/>
<line x1="1289.9" y1="1287" x2="1314.5" y2="1287" stroke-width="6.3" stroke-linecap="butt"/>
<line x1="1289.9" y1="1395" x2="1314.5" y2="1395" stroke-width="6.3" stroke-linecap="butt"/>
<line x1="1405.8" y1="973.8" x2="1405.8" y2="1147.6" stroke-width="6.3" stroke-linecap="butt"/>
<line x1="1393.5" y1="973.8" x2="1418.1" y2="973.8" stroke-width="6.3" stroke-linecap="butt"/>
<line x1="1393.5" y1="1147.6" x2="1418.1" y2="1147.6" stroke-width="6.3" stroke-linecap="butt"/>
<line x1="1509.4" y1="1038.2" x2="1509.4" y2="1158.4" stroke-width="6.3" stroke-linecap="butt"/>
<line x1="1497.1" y1="1038.2" x2="1521.7" y2="1038.2" stroke-width="6.3" stroke-linecap="butt"/>
<line x1="1497.1" y1="1158.4" x2="1521.7" y2="1158.4" stroke-width="6.3" stroke-linecap="butt"/>
<line x1="1613" y1="1078.4" x2="1613" y2="1180.4" stroke-width="6.3" stroke-linecap="butt"/>
<line x1="1600.7" y1="1078.4" x2="1625.3" y2="1078.4" stroke-width="6.3" stroke-linecap="butt"/>
<line x1="1600.7" y1="1180.4" x2="1625.3" y2="1180.4" stroke-width="6.3" stroke-linecap="butt"/>
<line x1="1716.6" y1="1031.9" x2="1716.6" y2="1168.1" stroke-width="6.3" stroke-linecap="butt"/>
<line x1="1704.3" y1="1031.9" x2="1728.9" y2="1031.9" stroke-width="6.3" stroke-linecap="butt"/>
<line x1="1704.3" y1="1168.1" x2="1728.9" y2="1168.1" stroke-width="6.3" stroke-linecap="butt"/>
<polyline points="1095,1339.6 1198.6,1322.7 1302.2,1341 1405.8,1060.7 1509.4,1098.3 1613,1129.4 1716.6,1100" stroke-width="6.2" stroke-linejoin="miter"/>
</g>
<g stroke="#000" stroke-width="5.4" fill="#353535">
<rect x="1083.1" y="1327.7" width="23.8" height="23.8"/>
<rect x="1186.7" y="1310.8" width="23.8" height="23.8"/>
<rect x="1290.3" y="1329.1" width="23.8" height="23.8"/>
<rect x="1393.9" y="1048.8" width="23.8" height="23.8"/>
<rect x="1497.5" y="1086.4" width="23.8" height="23.8"/>
<rect x="1601.1" y="1117.5" width="23.8" height="23.8"/>
<rect x="1704.7" y="1088.1" width="23.8" height="23.8"/>
</g>
<circle cx="1070" cy="982.2" r="12.0" stroke="#000" stroke-width="5.9" fill="#d3d3d3"/>
<rect x="1057.4" y="1005.2" width="25.2" height="25.2" stroke="#000" stroke-width="4.8" fill="#353535"/>
<rect x="1311.35" y="1161" width="6.5" height="65.1" fill="#000"/>
<polygon points="1305.45,1225.1 1323.75,1225.1 1314.6,1248.5" fill="#000"/>
<g fill="#000">
<text transform="translate(952.99,903.15) scale(0.4082,0.3812)" font-weight="bold" stroke="#000" stroke-width="1.267" stroke-linejoin="round">D</text>
<text transform="translate(1096.61,991.12) scale(0.3136,0.3268)" font-weight="bold" stroke="#000" stroke-width="1.562" stroke-linejoin="round" letter-spacing="4.616">A2a Het</text>
<text transform="translate(1096.63,1027.92) scale(0.3074,0.3268)" font-weight="bold" stroke="#000" stroke-width="1.577" stroke-linejoin="round" letter-spacing="5.329">A2a KO</text>
<text transform="translate(1268.86,1147.63) scale(0.2887,0.2662)" font-weight="normal" stroke="#000" stroke-width="3.604" stroke-linejoin="round" letter-spacing="3.278">CNO</text>
<text transform="translate(970.98,1553.12) rotate(-90) scale(0.3423,0.3638)" font-weight="bold" stroke="#000" stroke-width="1.416" stroke-linejoin="round" letter-spacing="3.669">Threshold (Rel. to Baseline)</text>
<text transform="translate(1307.7,1766.21) scale(0.3488,0.3447)" font-weight="bold" stroke="#000" stroke-width="1.442" stroke-linejoin="round" letter-spacing="3.959">Time (min.)</text>
<text transform="translate(989.87,1691.52) scale(0.2801,0.3080)" font-weight="bold" stroke="#000" stroke-width="1.701" stroke-linejoin="round" letter-spacing="4.930">0.0</text>
<text transform="translate(989.57,1511.32) scale(0.2801,0.3080)" font-weight="bold" stroke="#000" stroke-width="1.700" stroke-linejoin="round" letter-spacing="4.968">0.5</text>
<text transform="translate(989.92,1328.82) scale(0.2800,0.3080)" font-weight="bold" stroke="#000" stroke-width="1.701" stroke-linejoin="round" letter-spacing="4.855">1.0</text>
<text transform="translate(989.62,1147.77) scale(0.2801,0.3079)" font-weight="bold" stroke="#000" stroke-width="1.701" stroke-linejoin="round" letter-spacing="4.892">1.5</text>
<text transform="translate(989.85,965.12) scale(0.2801,0.3080)" font-weight="bold" stroke="#000" stroke-width="1.700" stroke-linejoin="round" letter-spacing="4.968">2.0</text>
<text transform="translate(1073.03,1720.96) scale(0.2849,0.3030)" font-weight="bold" stroke="#000" stroke-width="1.701" stroke-linejoin="round" letter-spacing="5.118">-30</text>
<text transform="translate(1176.32,1720.65) scale(0.2849,0.3029)" font-weight="bold" stroke="#000" stroke-width="1.701" stroke-linejoin="round" letter-spacing="5.194">-15</text>
<text transform="translate(1293.97,1720.96) scale(0.2994,0.3030)" font-weight="bold" stroke="#000" stroke-width="1.660" stroke-linejoin="round">0</text>
<text transform="translate(1388.54,1720.65) scale(0.2837,0.3029)" font-weight="bold" stroke="#000" stroke-width="1.705" stroke-linejoin="round" letter-spacing="7.677">15</text>
<text transform="translate(1492.81,1720.96) scale(0.2839,0.3030)" font-weight="bold" stroke="#000" stroke-width="1.704" stroke-linejoin="round" letter-spacing="7.903">30</text>
<text transform="translate(1596.25,1720.65) scale(0.2839,0.3029)" font-weight="bold" stroke="#000" stroke-width="1.704" stroke-linejoin="round" letter-spacing="7.978">45</text>
<text transform="translate(1699.75,1720.96) scale(0.2838,0.3030)" font-weight="bold" stroke="#000" stroke-width="1.704" stroke-linejoin="round" letter-spacing="7.753">60</text>
<text transform="translate(1390.9,957.65) scale(0.4620,0.4312)" font-weight="bold" stroke="#000" stroke-width="1.120" stroke-linejoin="round">+</text>
<text transform="translate(1391.78,918.2) scale(0.4864,0.4405)" font-weight="bold" stroke="#000" stroke-width="1.079" stroke-linejoin="round">#</text>
<text transform="translate(1497.2,1025.35) scale(0.4620,0.4312)" font-weight="bold" stroke="#000" stroke-width="1.120" stroke-linejoin="round">+</text>
<text transform="translate(1497.88,986.3) scale(0.4864,0.4405)" font-weight="bold" stroke="#000" stroke-width="1.079" stroke-linejoin="round">#</text>
<text transform="translate(1599.2,1065.05) scale(0.4620,0.4312)" font-weight="bold" stroke="#000" stroke-width="1.120" stroke-linejoin="round">+</text>
<text transform="translate(1601.18,1024.4) scale(0.4864,0.4405)" font-weight="bold" stroke="#000" stroke-width="1.079" stroke-linejoin="round">#</text>
<text transform="translate(1701.8,1009.75) scale(0.4620,0.4312)" font-weight="bold" stroke="#000" stroke-width="1.120" stroke-linejoin="round">+</text>
<text transform="translate(1702.78,968.6) scale(0.4864,0.4405)" font-weight="bold" stroke="#000" stroke-width="1.079" stroke-linejoin="round">#</text>
</g>
</g>
</svg>
</body></html>
